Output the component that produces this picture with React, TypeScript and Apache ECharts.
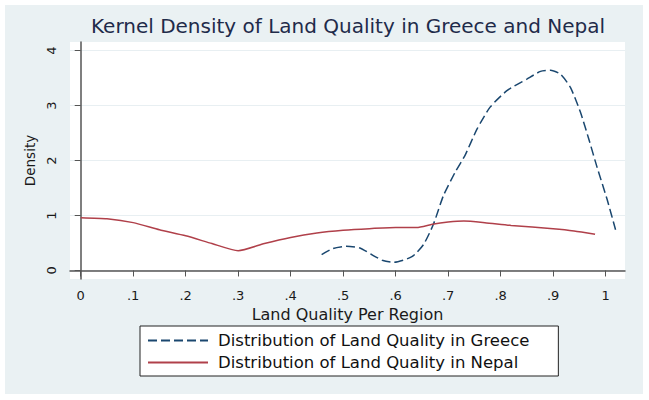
import React, { useEffect, useRef } from "react";
import * as echarts from "echarts";

const xTicks = [0, 0.1, 0.2, 0.3, 0.4, 0.5, 0.6, 0.7, 0.8, 0.9, 1];
const yTicks = [0, 1, 2, 3, 4];

const greeceName = "Distribution of Land Quality in Greece";
const nepalName = "Distribution of Land Quality in Nepal";

const greeceX = [0.459, 0.481, 0.506, 0.532, 0.554, 0.576, 0.597, 0.631, 0.653, 0.672, 0.691, 0.713, 0.732, 0.755, 0.78, 0.812, 0.85, 0.876, 0.895, 0.914, 0.933, 0.952, 0.968, 0.984, 1.003, 1.019];
const greeceY = [0.29, 0.4, 0.44, 0.41, 0.29, 0.18, 0.15, 0.25, 0.47, 0.84, 1.36, 1.78, 2.09, 2.57, 2.97, 3.27, 3.48, 3.62, 3.64, 3.57, 3.33, 2.88, 2.39, 1.87, 1.29, 0.74];

const nepalX = [0, 0.05, 0.1, 0.15, 0.2, 0.25, 0.3, 0.35, 0.4, 0.45, 0.5, 0.55, 0.6, 0.64, 0.67, 0.7, 0.73, 0.77, 0.82, 0.9, 0.94, 0.98];
const nepalY = [0.96, 0.94, 0.87, 0.74, 0.63, 0.49, 0.36, 0.49, 0.6, 0.68, 0.73, 0.76, 0.78, 0.78, 0.84, 0.88, 0.9, 0.87, 0.82, 0.76, 0.72, 0.66];

const FONT = '"DejaVu Sans", sans-serif';

const zip = (xs: number[], ys: number[]) => xs.map((x, i) => [x, ys[i]]);

const fmtX = (v: number) => {
  const r = Math.round(v * 10) / 10;
  if (r === 0) return "0";
  if (r === 1) return "1";
  return "." + Math.round(r * 10);
};

export default function App() {
  const ref = useRef<HTMLDivElement>(null);
  useEffect(() => {
    if (!ref.current) return;
    const chart = echarts.init(ref.current, undefined, { renderer: "svg" });
    chart.setOption({
      animation: false,
      backgroundColor: "#ffffff",
      graphic: [
        {
          type: "rect",
          z: -10,
          shape: { x: 5, y: 5, width: 638, height: 389 },
          style: { fill: "#eaf1f3" },
          silent: true,
        },
        {
          type: "text",
          x: 348,
          y: 26,
          style: {
            text: "Kernel Density of Land Quality in Greece and Nepal",
            font: '20px "DejaVu Sans", sans-serif',
            fill: "#1f2b4a",
            align: "center",
            verticalAlign: "middle",
          },
        },
      ],
      grid: {
        left: 70,
        right: 24,
        top: 42,
        bottom: 121,
        show: true,
        backgroundColor: "#ffffff",
        borderWidth: 0,
      },
      legend: {
        data: [greeceName, nepalName],
        orient: "vertical",
        left: 140,
        top: 326,
        itemWidth: 60,
        itemHeight: 14,
        itemGap: 5,
        padding: [6, 29, 5, 7],
        backgroundColor: "#ffffff",
        borderColor: "#222222",
        borderWidth: 1,
        itemStyle: { opacity: 0 },
        textStyle: {
          fontSize: 16.5,
          fontFamily: FONT,
          color: "#111111",
          padding: [0, 0, 0, 5],
        },
      },
      xAxis: {
        type: "value",
        min: -0.0204,
        max: 1.037,
        name: "Land Quality Per Region",
        nameLocation: "middle",
        nameGap: 24,
        nameTextStyle: { fontSize: 16, fontFamily: FONT, color: "#1a1a1a" },
        axisLine: { show: true, lineStyle: { color: "#555555", width: 1.5 } },
        axisTick: {
          show: true,
          customValues: xTicks,
          length: 6,
          lineStyle: { color: "#555555", width: 1 },
        },
        axisLabel: {
          customValues: xTicks,
          formatter: fmtX,
          fontSize: 13,
          fontFamily: FONT,
          color: "#1a1a1a",
          margin: 10,
        },
        splitLine: { show: false },
      },
      yAxis: {
        type: "value",
        min: -0.155,
        max: 4.155,
        name: "Density",
        nameLocation: "middle",
        nameGap: 30,
        nameTextStyle: { fontSize: 13.5, fontFamily: FONT, color: "#1a1a1a" },
        axisLine: { show: true, lineStyle: { color: "#555555", width: 1.5 } },
        axisTick: {
          show: true,
          customValues: yTicks,
          length: 6,
          lineStyle: { color: "#555555", width: 1 },
        },
        axisLabel: {
          customValues: yTicks,
          formatter: (v: number) => String(Math.round(v)),
          rotate: 90,
          fontSize: 13,
          fontFamily: FONT,
          color: "#1a1a1a",
          margin: 12,
        },
        splitLine: { show: true, lineStyle: { color: "#e8eff2", width: 1 } },
      },
      series: [
        {
          name: greeceName,
          type: "line",
          data: zip(greeceX, greeceY),
          symbol: "none",
          smooth: 0.2,
          lineStyle: { color: "#1a476f", width: 1.5, type: [9, 4] },
          itemStyle: { color: "#1a476f" },
        },
        {
          name: nepalName,
          type: "line",
          data: zip(nepalX, nepalY),
          symbol: "none",
          smooth: 0.2,
          lineStyle: { color: "#b0404a", width: 1.5 },
          itemStyle: { color: "#b0404a" },
        },
      ],
    });
    return () => chart.dispose();
  }, []);
  return (
    <div
      ref={ref}
      style={{ position: "absolute", left: 0, top: 0, width: 649, height: 400 }}
    />
  );
}
